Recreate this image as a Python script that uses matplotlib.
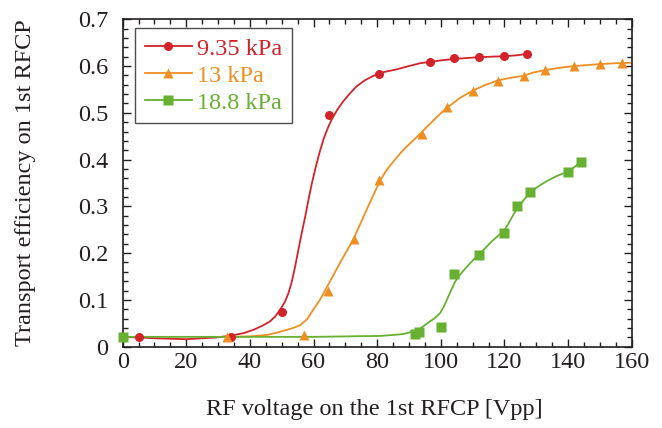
import matplotlib
matplotlib.use("Agg")
import matplotlib.pyplot as plt
from matplotlib.ticker import MultipleLocator

plt.rcParams['font.family'] = ['Liberation Serif', 'DejaVu Serif']

RED = '#d2222a'
ORANGE = '#ef8f22'
GREEN = '#67b032'
INK = '#231f20'

# measured points
x_935 = [5, 34, 50, 65, 80.5, 96.5, 104, 112, 120, 127]
y_935 = [0.020, 0.021, 0.074, 0.495, 0.583, 0.609, 0.617, 0.619, 0.621, 0.626]

x_13 = [32.7, 57, 64.6, 72.7, 80.7, 94, 102, 110, 118, 126, 132.7, 142, 150, 157]
y_13 = [0.021, 0.025, 0.119, 0.231, 0.356, 0.454, 0.513, 0.547, 0.569, 0.579, 0.591, 0.600, 0.604, 0.606]

x_188 = [0, 92, 93, 100, 104, 112, 120, 124, 128, 140, 144]
y_188 = [0.021, 0.027, 0.031, 0.042, 0.156, 0.196, 0.243, 0.300, 0.330, 0.374, 0.395]

# fitted curves
fit_x_935 = [0, 10, 20, 30, 34.3, 38, 41.1, 44, 46.3, 48, 49.5, 51, 52.1, 53.2, 54.2,
             55.2, 56.3, 57.4, 58.4, 59.4, 60.5, 61.8, 63.1, 64.4, 65.7, 67.5, 69.4,
             71.5, 73.6, 76, 78.8, 82, 86.2, 90, 93.5, 96.7, 100, 104, 108, 112, 116, 120, 124, 127]
fit_y_935 = [0.021, 0.018, 0.016, 0.020, 0.024, 0.029, 0.036, 0.045, 0.054, 0.065, 0.079, 0.096,
             0.114, 0.140, 0.171, 0.206, 0.243, 0.279, 0.314, 0.347, 0.379, 0.413, 0.443, 0.466,
             0.486, 0.507, 0.525, 0.542, 0.557, 0.569, 0.579, 0.587, 0.593, 0.600, 0.606, 0.609,
             0.612, 0.615, 0.617, 0.619, 0.620, 0.621, 0.623, 0.626]

fit_x_13 = [32.7, 40, 45.3, 48.5, 51.6, 54, 55.8, 58, 59.9, 62, 64.4, 66.4, 68.3, 70.4, 72.5,
            74.6, 76.7, 78.8, 80.9, 83, 85.1, 87.2, 89.3, 91.5, 93.5, 95.5, 97.7, 100, 102,
            106.1, 109.9, 113.8, 117.8, 122, 125.9, 129, 132.7, 137, 141.9, 146, 149.8, 155, 160]
fit_y_13 = [0.021, 0.022, 0.025, 0.030, 0.036, 0.041, 0.046, 0.059, 0.079, 0.100, 0.130, 0.155,
            0.179, 0.204, 0.229, 0.261, 0.293, 0.324, 0.355, 0.378, 0.396, 0.413, 0.428, 0.442,
            0.455, 0.469, 0.484, 0.499, 0.511, 0.532, 0.547, 0.559, 0.569, 0.575, 0.579, 0.586,
            0.591, 0.596, 0.600, 0.602, 0.604, 0.606, 0.607]

fit_x_188 = [0, 20, 40, 60, 80.9, 85, 88.2, 91, 93.5, 95, 96.6, 98.3, 99.8, 100.9, 101.9,
             103.2, 104.5, 106.3, 108.2, 110, 111.8, 114, 116, 118, 119.9, 121.4, 122.8, 124,
             124.9, 126.5, 128, 130.5, 133.3, 136.5, 139.9, 142, 143.9]
fit_y_188 = [0.021, 0.021, 0.021, 0.021, 0.023, 0.025, 0.027, 0.032, 0.039, 0.046, 0.054, 0.062,
             0.072, 0.085, 0.100, 0.120, 0.139, 0.156, 0.171, 0.184, 0.196, 0.211, 0.225, 0.237,
             0.248, 0.265, 0.282, 0.295, 0.304, 0.317, 0.329, 0.342, 0.354, 0.365, 0.374, 0.384, 0.395]

fig = plt.figure(figsize=(6.62, 4.28), dpi=100)
ax = fig.add_axes([0.1853, 0.19, 0.7689, 0.765])

series = [
    (x_935, y_935, fit_x_935, fit_y_935, RED, 'o', 6.5, '9.35 kPa'),
    (x_13, y_13, fit_x_13, fit_y_13, ORANGE, '^', 7, '13 kPa'),
    (x_188, y_188, fit_x_188, fit_y_188, GREEN, 's', 6.8, '18.8 kPa'),
]

handles = []
for xs, ys, fx, fy, col, mk, ms, lab in series:
    ax.plot(fx, fy, color=col, lw=1.3, zorder=2)
    ax.plot(xs, ys, ls='none', marker=mk, ms=ms, color=col, mec='none', zorder=3, clip_on=False)
    h, = ax.plot([], [], color=col, lw=1.3, marker=mk, ms=ms, mec='none', label=lab)
    handles.append(h)

ax.set_xlim(0, 160)
ax.set_ylim(0, 0.7)
ax.xaxis.set_major_locator(MultipleLocator(20))
ax.xaxis.set_minor_locator(MultipleLocator(5))
ax.yaxis.set_minor_locator(MultipleLocator(0.02))
ax.set_yticks([0, 0.1, 0.2, 0.3, 0.4, 0.5, 0.6, 0.7])
ax.set_yticklabels(['0', '0.1', '0.2', '0.3', '0.4', '0.5', '0.6', '0.7'])

ax.tick_params(which='both', direction='in', top=True, right=True, labelsize=17.5,
               colors=INK, width=1)
ax.tick_params(which='major', length=6)
ax.tick_params(which='minor', length=3.5)
ax.tick_params(axis='x', which='major', pad=4)
ax.tick_params(axis='y', which='major', pad=10.5)
for s in ax.spines.values():
    s.set_linewidth(1.2)
    s.set_color(INK)

ax.set_xlabel('RF voltage on the 1st RFCP [Vpp]', fontsize=17.5, color=INK)
ax.xaxis.set_label_coords(0.494, -0.16)
ax.set_ylabel('Transport efficiency on 1st RFCP', fontsize=17.5, color=INK)
ax.yaxis.set_label_coords(-0.17, 0.5)

leg = ax.legend(handles=handles, loc='upper left', bbox_to_anchor=(0.024, 0.973),
                fontsize=17.5, frameon=True, fancybox=False, handlelength=1.95,
                handletextpad=0.2, borderpad=0.4, labelspacing=0.2, borderaxespad=0)
leg.get_frame().set_edgecolor(INK)
leg.get_frame().set_linewidth(1)
for t, (_, _, _, _, col, _, _, _) in zip(leg.get_texts(), series):
    t.set_color(col)

fig.savefig('out.png', dpi=100)
